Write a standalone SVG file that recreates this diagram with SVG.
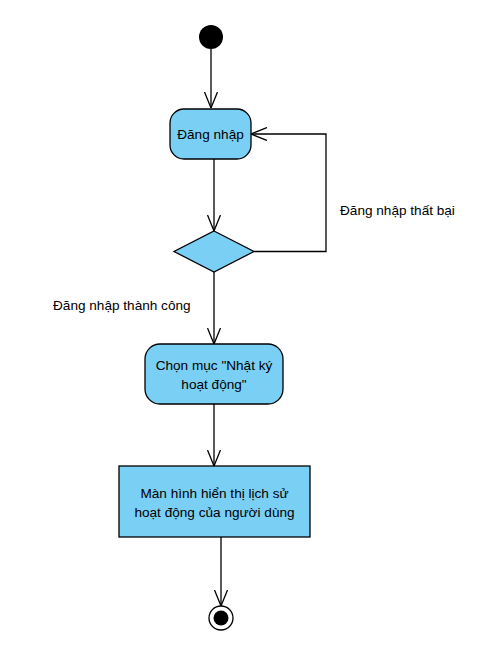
<svg xmlns="http://www.w3.org/2000/svg" width="482" height="652" viewBox="0 0 482 652">
<style>
.node{fill:#7acff5;stroke:#000;stroke-width:1.3}
.edge{fill:none;stroke:#000;stroke-width:1.3}
text{font-family:"Liberation Sans",Arial,sans-serif;font-size:13.6px;fill:#000}
.c{text-anchor:middle}
</style>
<defs>
<marker id="arr" viewBox="0 0 16 14" refX="16" refY="7" markerWidth="16" markerHeight="14" markerUnits="userSpaceOnUse" orient="auto">
<path d="M0,0.5 L16,7 L0,13.5" fill="none" stroke="#000" stroke-width="1.3"/>
</marker>
</defs>
<rect width="482" height="652" fill="#fff"/>
<g id="connectors">
<path class="edge" d="M211,49 L211,108" marker-end="url(#arr)"/>
<path class="edge" d="M214,159 L214,231" marker-end="url(#arr)"/>
<path class="edge" d="M254,251.5 L326,251.5 L326,134 L251,134" marker-end="url(#arr)"/>
<path class="edge" d="M214,272 L214,344" marker-end="url(#arr)"/>
<path class="edge" d="M214,404 L214,466" marker-end="url(#arr)"/>
<path class="edge" d="M221,537 L221,606" marker-end="url(#arr)"/>
<text x="340" y="215">Đăng nhập thất bại</text>
<text x="53" y="310">Đăng nhập thành công</text>
</g>
<g id="start"><circle cx="211" cy="37" r="12" fill="#000"/></g>
<g id="login">
<rect class="node" x="170" y="109" width="81" height="50" rx="14"/>
<text class="c" x="210.5" y="138.5">Đăng nhập</text>
</g>
<g id="decision"><polygon class="node" points="214,231 254,251.5 214,272 174,251.5"/></g>
<g id="choose">
<rect class="node" x="145" y="344" width="138" height="60" rx="15"/>
<text class="c" x="214" y="370">Chọn mục "Nhật ký</text>
<text class="c" x="214" y="389">hoạt động"</text>
</g>
<g id="screen">
<rect class="node" x="119" y="466" width="191" height="71"/>
<text class="c" x="214.5" y="498">Màn hình hiển thị lịch sử</text>
<text class="c" x="214.5" y="517">hoạt động của người dùng</text>
</g>
<g id="end">
<circle cx="221" cy="618" r="12" fill="#fff" stroke="#000" stroke-width="1.3"/>
<circle cx="221" cy="618" r="7.5" fill="#000"/>
</g>
</svg>
